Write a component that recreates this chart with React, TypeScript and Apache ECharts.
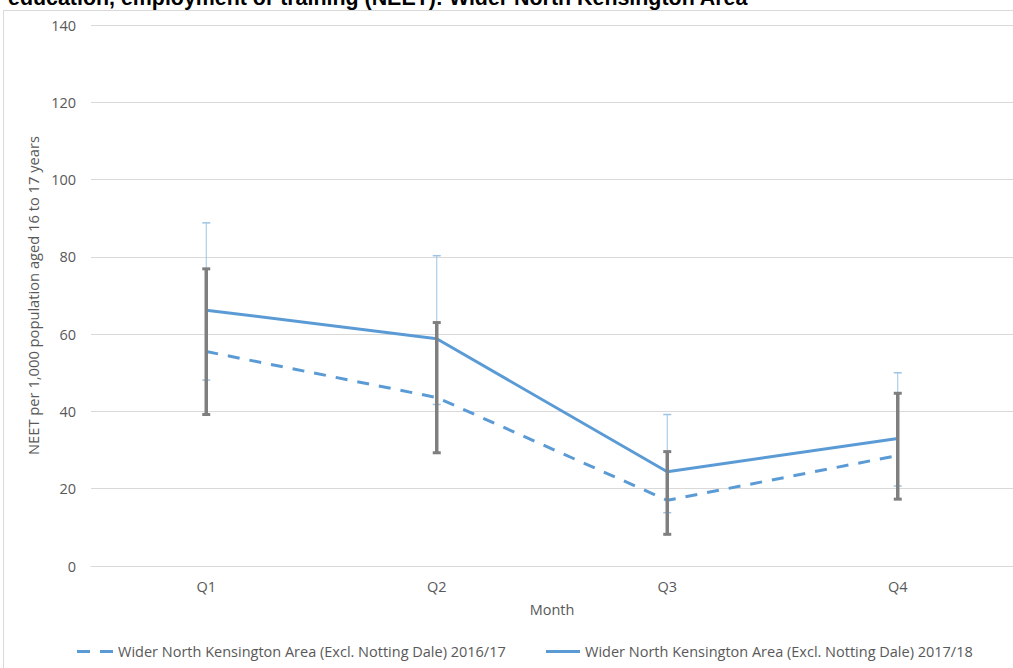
import React, { useEffect, useRef } from "react";
import * as echarts from "echarts";

const categories = ["Q1", "Q2", "Q3", "Q4"];
const yTicks = { min: 0, max: 140, interval: 20 };

const series1617Name = "Wider North Kensington Area (Excl. Notting Dale) 2016/17";
const series1718Name = "Wider North Kensington Area (Excl. Notting Dale) 2017/18";

const values1617 = [55.5, 43.6, 17.0, 28.6];
const low1617 = [39.2, 29.3, 8.2, 17.3];
const high1617 = [76.9, 63.0, 29.6, 44.7];

const values1718 = [66.2, 58.8, 24.4, 33.0];
const low1718 = [48.1, 41.8, 13.8, 20.7];
const high1718 = [88.8, 80.3, 39.2, 50.0];

const titleText = "education, employment or training (NEET): Wider North Kensington Area";
const yAxisName = "NEET per 1,000 population aged 16 to 17 years";
const xAxisName = "Month";

const FONT = "'Open Sans', 'Liberation Sans', sans-serif";
const TITLE_FONT = "'Liberation Sans', Arial, sans-serif";
const TEXT_COLOR = "#595959";
const LINE_COLOR = "#5b9bd5";

function errorBarRender(color: string, width: number, capHalf: number, capWidth: number) {
  return (params: any, api: any) => {
    const idx = api.value(0);
    const lo = api.coord([idx, api.value(1)]);
    const hi = api.coord([idx, api.value(2)]);
    const x = lo[0];
    return {
      type: "group",
      children: [
        { type: "line", shape: { x1: x, y1: lo[1], x2: x, y2: hi[1] }, style: { stroke: color, lineWidth: width } },
        { type: "line", shape: { x1: x - capHalf, y1: lo[1], x2: x + capHalf, y2: lo[1] }, style: { stroke: color, lineWidth: capWidth } },
        { type: "line", shape: { x1: x - capHalf, y1: hi[1], x2: x + capHalf, y2: hi[1] }, style: { stroke: color, lineWidth: capWidth } },
      ],
    };
  };
}

export default function App() {
  const ref = useRef<HTMLDivElement>(null);
  useEffect(() => {
    if (!ref.current) return;
    const chart = echarts.init(ref.current, null, { renderer: "svg" });
    const err1617 = categories.map((_, i) => [i, low1617[i], high1617[i]]);
    const err1718 = categories.map((_, i) => [i, low1718[i], high1718[i]]);
    chart.setOption({
      animation: false,
      backgroundColor: "#ffffff",
      textStyle: { fontFamily: FONT },
      graphic: [
        {
          type: "rect",
          shape: { x: 3.5, y: 10.5, width: 1200, height: 1000 },
          style: { fill: "none", stroke: "#d9d9d9", lineWidth: 1 },
          silent: true,
          z: -10,
        },
        {
          type: "text",
          x: 8,
          y: -2,
          style: {
            text: titleText,
            font: "bold 21.4px " + TITLE_FONT,
            fill: "#000000",
            textAlign: "left",
            textVerticalAlign: "middle",
          },
          z: 10,
        },
      ],
      grid: { left: 91, right: -3, top: 25, bottom: 102, containLabel: false },
      xAxis: {
        type: "category",
        data: categories,
        boundaryGap: true,
        axisLine: { lineStyle: { color: "#d9d9d9", width: 1 } },
        axisTick: { show: false },
        axisLabel: { color: TEXT_COLOR, fontSize: 14.5, margin: 13, fontFamily: FONT },
        name: xAxisName,
        nameLocation: "middle",
        nameGap: 36,
        nameTextStyle: { color: TEXT_COLOR, fontSize: 14.5, fontFamily: FONT },
      },
      yAxis: {
        type: "value",
        min: yTicks.min,
        max: yTicks.max,
        interval: yTicks.interval,
        axisLine: { show: false },
        axisTick: { show: false },
        splitLine: { lineStyle: { color: "#d9d9d9", width: 1 } },
        axisLabel: { color: TEXT_COLOR, fontSize: 14.5, margin: 15, fontFamily: FONT },
        name: yAxisName,
        nameLocation: "middle",
        nameRotate: 90,
        nameGap: 45,
        nameTextStyle: { color: TEXT_COLOR, fontSize: 14.7, fontFamily: FONT },
      },
      legend: [
        {
          data: [{ name: series1617Name, icon: "path://M0,0h13v3h-13z M23,0h13v3h-13z" }],
          left: 77,
          top: 644,
          itemWidth: 36,
          itemHeight: 3,
          textStyle: { color: TEXT_COLOR, fontSize: 14.5, fontFamily: FONT },
          padding: 0,
        },
        {
          data: [{ name: series1718Name, icon: "path://M0,0h34v3h-34z" }],
          left: 546,
          top: 644,
          itemWidth: 34,
          itemHeight: 3,
          textStyle: { color: TEXT_COLOR, fontSize: 14.5, fontFamily: FONT },
          padding: 0,
        },
      ],
      series: [
        {
          name: "err1718",
          type: "custom",
          data: err1718,
          encode: { x: 0, y: [1, 2] },
          renderItem: errorBarRender("#9dc3e6", 1, 4, 1.5),
          z: 1,
          silent: true,
        },
        {
          name: series1617Name,
          type: "line",
          data: values1617,
          symbol: "none",
          lineStyle: { color: LINE_COLOR, width: 3, type: [12, 10] },
          itemStyle: { color: LINE_COLOR },
          z: 2,
        },
        {
          name: series1718Name,
          type: "line",
          data: values1718,
          symbol: "none",
          lineStyle: { color: LINE_COLOR, width: 3 },
          itemStyle: { color: LINE_COLOR },
          z: 2,
        },
        {
          name: "err1617",
          type: "custom",
          data: err1617,
          encode: { x: 0, y: [1, 2] },
          renderItem: errorBarRender("#7f7f7f", 3.5, 4, 3),
          z: 3,
          silent: true,
        },
      ],
    });
    return () => chart.dispose();
  }, []);
  return (
    <div
      ref={ref}
      style={{ position: "fixed", left: 0, top: 0, width: 1013, height: 668 }}
    />
  );
}
